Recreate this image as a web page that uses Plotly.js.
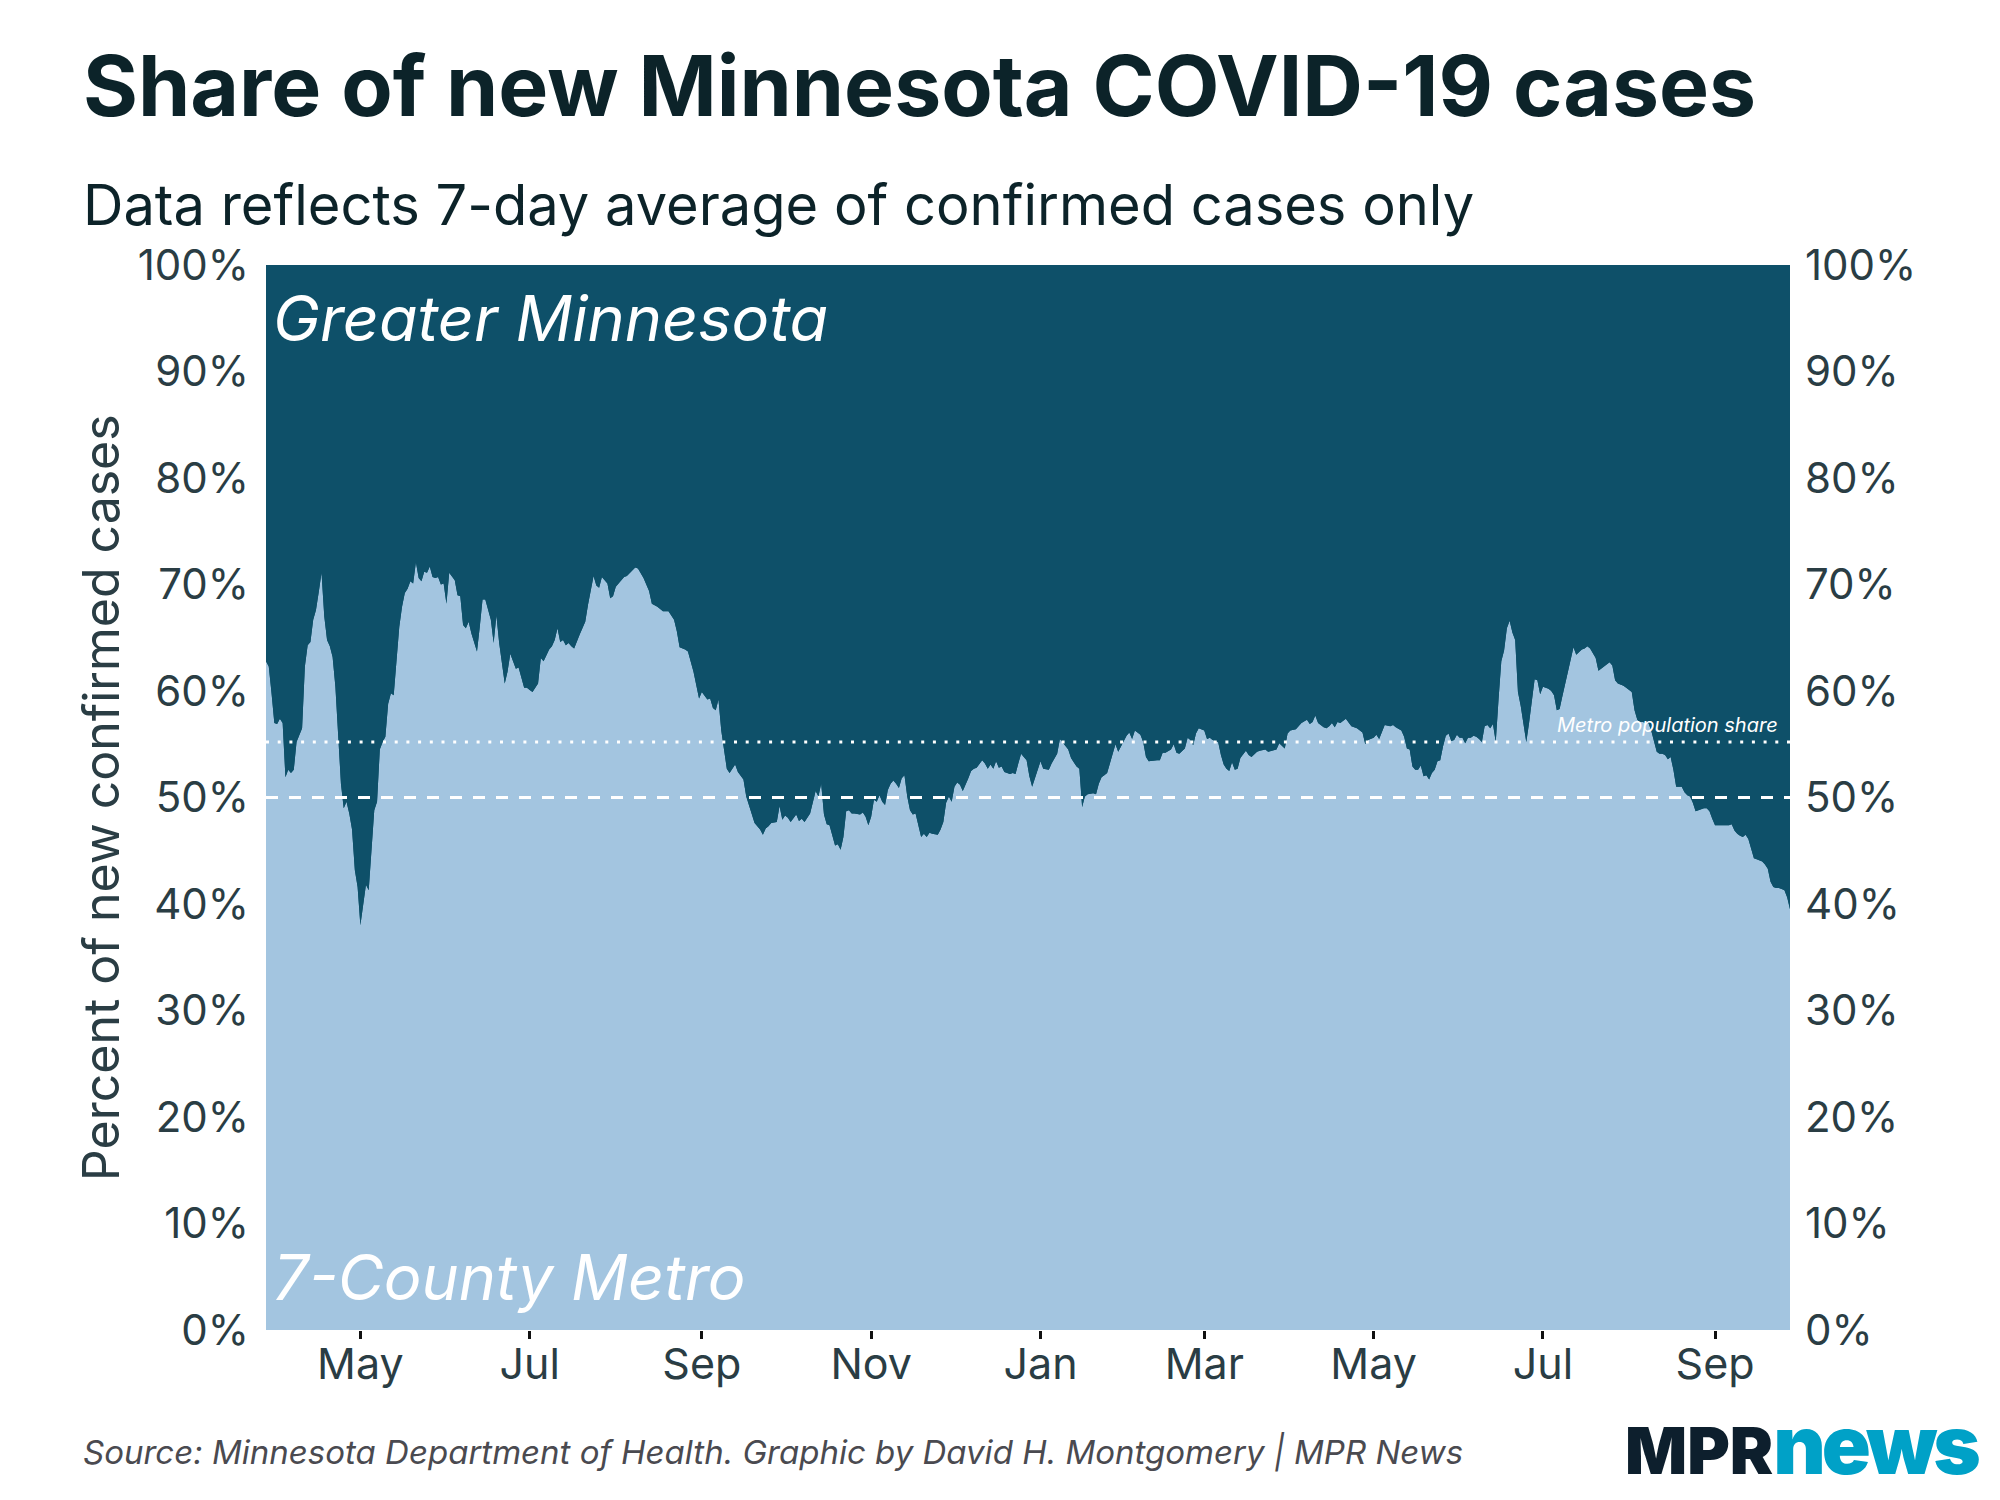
<!DOCTYPE html>
<html>
<head>
<meta charset="utf-8">
<script src="https://cdn.plot.ly/plotly-3.0.1.min.js"></script>
<style>
  html, body { margin: 0; padding: 0; background: #ffffff; }
  #chart { width: 2000px; height: 1500px; }
</style>
</head>
<body>
<div id="chart"></div>
<script>
// ---- Data (7-day average share of new confirmed cases, 7-County Metro, %) ----
const dates = [
  '2020-03-28','2020-03-29','2020-03-30','2020-03-31',
  '2020-04-01','2020-04-02','2020-04-03','2020-04-04','2020-04-05','2020-04-06','2020-04-07','2020-04-08','2020-04-10','2020-04-11','2020-04-12','2020-04-13','2020-04-14','2020-04-15','2020-04-16','2020-04-17','2020-04-18','2020-04-19','2020-04-20','2020-04-21','2020-04-22','2020-04-23','2020-04-24','2020-04-25','2020-04-26','2020-04-27','2020-04-28','2020-04-29','2020-04-30',
  '2020-05-01','2020-05-02','2020-05-03','2020-05-04','2020-05-05','2020-05-06','2020-05-07','2020-05-08','2020-05-09','2020-05-10','2020-05-11','2020-05-12','2020-05-13','2020-05-14','2020-05-15','2020-05-16','2020-05-17','2020-05-18','2020-05-19','2020-05-20','2020-05-21','2020-05-22','2020-05-23','2020-05-24','2020-05-25','2020-05-26','2020-05-27','2020-05-28','2020-05-29','2020-05-30','2020-05-31',
  '2020-06-01','2020-06-02','2020-06-04','2020-06-05','2020-06-06','2020-06-07','2020-06-08','2020-06-09','2020-06-10','2020-06-11','2020-06-12','2020-06-13','2020-06-14','2020-06-15','2020-06-17','2020-06-18','2020-06-19','2020-06-20','2020-06-21','2020-06-22','2020-06-23','2020-06-24','2020-06-26','2020-06-27','2020-06-29','2020-06-30',
  '2020-07-01','2020-07-02','2020-07-03','2020-07-04','2020-07-05','2020-07-06','2020-07-08','2020-07-09','2020-07-10','2020-07-11','2020-07-12','2020-07-13','2020-07-14','2020-07-15','2020-07-16','2020-07-17','2020-07-19','2020-07-20','2020-07-21','2020-07-22','2020-07-23','2020-07-24','2020-07-25','2020-07-26','2020-07-27','2020-07-29','2020-07-30','2020-07-31',
  '2020-08-01','2020-08-03','2020-08-04','2020-08-05','2020-08-07','2020-08-08','2020-08-09','2020-08-11','2020-08-13','2020-08-14','2020-08-16','2020-08-18','2020-08-20','2020-08-22','2020-08-23','2020-08-24','2020-08-26','2020-08-27','2020-08-29','2020-08-30','2020-08-31',
  '2020-09-01','2020-09-02','2020-09-03','2020-09-04','2020-09-05','2020-09-06','2020-09-07','2020-09-08','2020-09-09','2020-09-10','2020-09-11','2020-09-13','2020-09-14','2020-09-15','2020-09-16','2020-09-17','2020-09-19','2020-09-20','2020-09-21','2020-09-22','2020-09-23','2020-09-24','2020-09-25','2020-09-26','2020-09-28','2020-09-29','2020-09-30',
  '2020-10-01','2020-10-02','2020-10-03','2020-10-05','2020-10-06','2020-10-07','2020-10-08','2020-10-10','2020-10-11','2020-10-12','2020-10-13','2020-10-14','2020-10-15','2020-10-16','2020-10-17','2020-10-18','2020-10-19','2020-10-20','2020-10-21','2020-10-22','2020-10-23','2020-10-24','2020-10-25','2020-10-26','2020-10-28','2020-10-29','2020-10-30','2020-10-31',
  '2020-11-01','2020-11-02','2020-11-03','2020-11-04','2020-11-05','2020-11-06','2020-11-07','2020-11-08','2020-11-09','2020-11-10','2020-11-11','2020-11-12','2020-11-13','2020-11-14','2020-11-15','2020-11-16','2020-11-17','2020-11-18','2020-11-19','2020-11-20','2020-11-21','2020-11-22','2020-11-23','2020-11-25','2020-11-26','2020-11-27','2020-11-28','2020-11-29','2020-11-30',
  '2020-12-01','2020-12-02','2020-12-03','2020-12-04','2020-12-06','2020-12-07','2020-12-08','2020-12-09','2020-12-11','2020-12-12','2020-12-13','2020-12-14','2020-12-15','2020-12-16','2020-12-17','2020-12-18','2020-12-19','2020-12-21','2020-12-22','2020-12-23','2020-12-24','2020-12-25','2020-12-27','2020-12-28','2020-12-29','2020-12-30','2020-12-31',
  '2021-01-01','2021-01-02','2021-01-04','2021-01-05','2021-01-07','2021-01-08','2021-01-10','2021-01-11','2021-01-12','2021-01-14','2021-01-15','2021-01-16','2021-01-17','2021-01-18','2021-01-20','2021-01-21','2021-01-22','2021-01-23','2021-01-24','2021-01-25','2021-01-26','2021-01-27','2021-01-28','2021-01-29','2021-01-30','2021-01-31',
  '2021-02-01','2021-02-02','2021-02-03','2021-02-04','2021-02-06','2021-02-07','2021-02-08','2021-02-09','2021-02-11','2021-02-12','2021-02-13','2021-02-14','2021-02-15','2021-02-17','2021-02-18','2021-02-19','2021-02-20','2021-02-22','2021-02-23','2021-02-24','2021-02-25','2021-02-26','2021-02-27',
  '2021-03-01','2021-03-02','2021-03-03','2021-03-04','2021-03-06','2021-03-07','2021-03-08','2021-03-09','2021-03-10','2021-03-11','2021-03-12','2021-03-13','2021-03-14','2021-03-16','2021-03-17','2021-03-18','2021-03-20','2021-03-21','2021-03-23','2021-03-24','2021-03-26','2021-03-27','2021-03-28','2021-03-29','2021-03-30','2021-03-31',
  '2021-04-01','2021-04-03','2021-04-04','2021-04-05','2021-04-07','2021-04-08','2021-04-09','2021-04-10','2021-04-11','2021-04-13','2021-04-14','2021-04-15','2021-04-16','2021-04-17','2021-04-18','2021-04-19','2021-04-21','2021-04-22','2021-04-23','2021-04-25','2021-04-26','2021-04-27','2021-04-28','2021-04-29',
  '2021-05-01','2021-05-02','2021-05-03','2021-05-04','2021-05-05','2021-05-07','2021-05-08','2021-05-09','2021-05-11','2021-05-12','2021-05-13','2021-05-14','2021-05-15','2021-05-16','2021-05-17','2021-05-18','2021-05-19','2021-05-20','2021-05-21','2021-05-22','2021-05-23','2021-05-24','2021-05-25','2021-05-26','2021-05-27','2021-05-28','2021-05-29','2021-05-30','2021-05-31',
  '2021-06-01','2021-06-02','2021-06-03','2021-06-04','2021-06-05','2021-06-06','2021-06-07','2021-06-08','2021-06-09','2021-06-10','2021-06-11','2021-06-12','2021-06-13','2021-06-14','2021-06-15','2021-06-16','2021-06-17','2021-06-18','2021-06-19','2021-06-20','2021-06-21','2021-06-22','2021-06-23','2021-06-24','2021-06-25','2021-06-26','2021-06-27','2021-06-28','2021-06-29','2021-06-30',
  '2021-07-01','2021-07-02','2021-07-03','2021-07-04','2021-07-05','2021-07-06','2021-07-07','2021-07-08','2021-07-09','2021-07-10','2021-07-11','2021-07-12','2021-07-13','2021-07-14','2021-07-15','2021-07-16','2021-07-17','2021-07-18','2021-07-19','2021-07-20','2021-07-21','2021-07-22','2021-07-23','2021-07-24','2021-07-25','2021-07-26','2021-07-27','2021-07-28','2021-07-29','2021-07-30','2021-07-31',
  '2021-08-01','2021-08-02','2021-08-03','2021-08-04','2021-08-05','2021-08-06','2021-08-07','2021-08-08','2021-08-09','2021-08-10','2021-08-11','2021-08-12','2021-08-13','2021-08-14','2021-08-15','2021-08-16','2021-08-17','2021-08-18','2021-08-19','2021-08-20','2021-08-21','2021-08-22','2021-08-23','2021-08-24','2021-08-25','2021-08-26','2021-08-27','2021-08-28','2021-08-29','2021-08-30','2021-08-31',
  '2021-09-01','2021-09-02','2021-09-03','2021-09-04','2021-09-05','2021-09-06','2021-09-07','2021-09-08','2021-09-09','2021-09-10','2021-09-11','2021-09-12','2021-09-13','2021-09-14','2021-09-15','2021-09-16','2021-09-17','2021-09-18','2021-09-19','2021-09-20','2021-09-21','2021-09-22','2021-09-23','2021-09-24','2021-09-25','2021-09-26','2021-09-27','2021-09-28'
];

const metroShare = [
  62.8,62.3,59.8,57.0,
  56.9,57.4,57.0,51.9,52.6,52.3,52.6,55.2,56.5,62.3,64.3,64.6,66.7,67.6,69.3,71.1,67.0,64.8,64.2,63.2,60.4,55.7,51.3,49.0,49.6,48.5,47.0,43.2,41.6,
  38.0,40.1,41.8,41.3,44.8,48.8,49.6,54.5,55.2,55.7,58.8,59.8,59.6,62.9,66.0,67.9,69.2,69.6,70.3,70.1,72.1,70.6,70.3,71.2,71.1,71.7,70.7,70.6,70.7,70.0,70.1,
  68.2,71.1,70.4,69.0,68.9,66.2,65.9,66.5,65.4,64.6,63.7,66.0,68.6,68.6,66.7,64.5,67.1,64.5,62.3,60.7,61.8,63.5,62.1,62.2,60.3,60.3,
  60.1,59.9,60.3,60.7,63.1,62.8,63.9,64.2,64.8,65.9,64.6,64.8,64.3,64.5,64.2,64.0,65.3,66.0,66.5,68.1,69.6,70.8,69.9,69.7,70.7,70.1,68.7,68.9,
  69.8,70.4,70.7,70.8,71.4,71.6,71.5,70.6,69.4,68.2,67.9,67.5,67.5,66.7,65.6,64.1,63.9,63.7,61.8,60.6,59.3,
  59.9,59.5,59.2,59.3,58.4,58.2,59.2,56.3,54.5,52.7,52.3,53.1,52.4,52.0,51.7,50.1,48.5,47.6,47.3,47.0,46.5,47.1,47.3,47.6,47.7,49.2,47.9,
  48.3,48.1,47.7,48.4,47.8,48.0,47.7,48.5,49.6,50.6,50.1,51.3,48.4,47.5,47.4,46.5,45.5,45.6,45.1,46.3,48.7,48.8,48.5,48.5,48.4,48.6,48.2,47.4,
  48.2,49.8,49.6,50.2,49.6,49.3,50.7,51.3,51.6,51.3,50.9,51.8,52.1,50.1,48.8,48.4,48.5,47.4,46.3,46.6,46.3,46.7,46.6,46.5,47.0,47.7,49.5,50.1,49.6,
  51.0,51.4,51.2,50.6,51.8,52.5,52.7,52.8,53.5,53.2,52.7,53.1,52.7,53.4,52.8,52.9,52.4,52.2,52.3,52.2,53.2,54.1,53.5,52.0,51.0,51.8,52.7,
  53.4,52.7,52.6,53.2,54.1,55.5,54.9,54.5,53.7,52.9,52.7,49.1,50.1,50.3,50.4,50.3,51.3,51.9,52.1,52.3,53.2,54.1,55.0,54.3,54.8,55.4,
  55.8,56.1,55.5,56.3,55.9,55.2,53.8,53.4,53.5,53.5,53.5,54.2,54.2,54.5,55.0,54.2,54.1,54.6,55.6,55.4,54.9,56.0,56.5,
  56.3,55.5,55.6,55.4,55.2,54.0,53.1,52.7,52.5,53.3,52.6,52.7,53.7,54.4,54.0,53.8,54.3,54.4,54.5,54.3,54.4,54.5,55.1,54.8,54.6,56.0,
  56.3,56.4,56.7,57.0,57.3,56.9,57.1,57.7,57.0,56.6,56.5,56.7,57.0,56.6,57.1,57.0,57.4,57.0,56.7,56.5,56.3,56.1,55.0,55.4,
  55.6,55.9,55.5,56.2,56.8,56.7,56.8,56.6,56.3,55.7,54.6,54.5,52.9,52.6,52.6,53.0,52.0,52.1,51.7,52.3,52.6,53.4,53.5,54.8,55.8,56.0,55.3,55.4,55.9,
  55.6,55.6,55.1,55.6,55.6,55.8,55.7,55.5,55.2,56.7,56.8,56.5,56.9,55.2,59.2,62.8,63.8,65.9,66.6,65.5,64.8,59.9,58.6,57.1,55.2,57.0,59.3,61.1,61.0,59.7,
  60.4,60.3,60.2,60.0,59.6,58.2,58.3,59.5,60.7,62.0,63.2,64.1,63.4,63.7,63.9,64.0,64.2,64.0,63.5,63.1,61.9,62.1,62.3,62.5,62.7,62.4,61.0,60.7,60.6,60.5,60.3,
  60.1,59.9,58.2,57.3,57.1,57.1,57.0,57.0,56.3,55.2,54.3,54.1,54.1,54.0,53.6,53.8,52.6,51.0,51.0,51.0,50.5,50.2,50.1,49.5,48.7,48.8,48.9,49.0,49.0,48.7,48.0,
  47.4,47.4,47.4,47.4,47.4,47.4,47.5,46.9,46.6,46.4,46.3,46.5,46.1,45.1,44.3,44.2,44.1,44.0,43.7,43.3,42.1,41.6,41.5,41.5,41.4,41.3,40.6,39.5
];

const metroPopulationShare = 55.2;   // % of Minnesota population in the 7-county metro
const yTickVals = [0,10,20,30,40,50,60,70,80,90,100];
const yTickText = ['0%','10%','20%','30%','40%','50%','60%','70%','80%','90%','100%'];
const xTickVals = ['2020-05-01','2020-07-01','2020-09-01','2020-11-01','2021-01-01','2021-03-01','2021-05-01','2021-07-01','2021-09-01'];
const xTickText = ['May','Jul','Sep','Nov','Jan','Mar','May','Jul','Sep'];

// Greater Minnesota is the remainder of the total
const greaterShare = metroShare.map(v => +(100 - v).toFixed(1));

const DARK = '#0e5069';
const LIGHT = '#a3c5e0';
const TEXT = '#2a3d44';
const FONT = 'Inter, "Noto Sans", sans-serif';

const traces = [
  {
    x: dates, y: metroShare, type: 'scatter', mode: 'lines',
    stackgroup: 'share', fillcolor: LIGHT, line: {width: 0, color: LIGHT},
    name: '7-County Metro', hoverinfo: 'skip'
  },
  {
    x: dates, y: greaterShare, type: 'scatter', mode: 'lines',
    stackgroup: 'share', fillcolor: DARK, line: {width: 0, color: DARK},
    name: 'Greater Minnesota', hoverinfo: 'skip'
  },
  {
    x: [dates[0]], y: [0], yaxis: 'y2', type: 'scatter', mode: 'markers',
    marker: {opacity: 0}, showlegend: false, hoverinfo: 'skip'
  }
];

const yCommon = {
  range: [0, 100], tickvals: yTickVals, ticktext: yTickText,
  showgrid: false, zeroline: false, showline: false, ticks: '',
  tickfont: {family: FONT, size: 42, color: TEXT}, fixedrange: true
};

const layout = {
  width: 2000, height: 1500,
  margin: {l: 266, r: 210, t: 265, b: 170, pad: 0},
  paper_bgcolor: '#ffffff', plot_bgcolor: DARK,
  showlegend: false,
  xaxis: {
    type: 'date', range: ['2020-03-28', '2021-09-28'],
    tickvals: xTickVals, ticktext: xTickText,
    ticks: 'outside', ticklen: 8, tickwidth: 3, tickcolor: '#111111',
    showgrid: false, zeroline: false, showline: false,
    tickfont: {family: FONT, size: 43, color: TEXT},
    ticklabelstandoff: -12
  },
  yaxis: Object.assign({}, yCommon, {side: 'left', ticklabelstandoff: 16}),
  yaxis2: Object.assign({}, yCommon, {side: 'right', overlaying: 'y', ticklabelstandoff: 14}),
  shapes: [
    {type: 'line', xref: 'paper', x0: 0, x1: 1, yref: 'y', y0: 50, y1: 50,
     line: {color: '#ffffff', width: 3, dash: '12px,11px'}, layer: 'above'},
    {type: 'line', xref: 'paper', x0: 0, x1: 1, yref: 'y', y0: metroPopulationShare, y1: metroPopulationShare,
     line: {color: '#ffffff', width: 3, dash: '3px,8.7px'}, layer: 'above'}
  ],
  annotations: [
    {text: 'Share of new Minnesota COVID-19 cases', xref: 'paper', yref: 'paper',
     x: -0.1217, y: 1.1681, xanchor: 'left', yanchor: 'middle', showarrow: false,
     font: {family: FONT, size: 84, color: '#0c2329', weight: 700}},
    {text: 'Data reflects 7-day average of confirmed cases only', xref: 'paper', yref: 'paper',
     x: -0.1217, y: 1.0563, xanchor: 'left', yanchor: 'middle', showarrow: false,
     font: {family: FONT, size: 56, color: '#0c2329'}},
    {text: 'Percent of new confirmed cases', xref: 'paper', yref: 'paper',
     x: -0.1085, y: 0.5, xanchor: 'center', yanchor: 'middle', textangle: -90, showarrow: false,
     font: {family: FONT, size: 50, color: TEXT}},
    {text: 'Greater Minnesota', xref: 'paper', yref: 'paper',
     x: 0.003, y: 0.9502, xanchor: 'left', yanchor: 'middle', showarrow: false,
     font: {family: FONT, size: 63, color: '#ffffff', style: 'italic'}},
    {text: '7-County Metro', xref: 'paper', yref: 'paper',
     x: 0.003, y: 0.0498, xanchor: 'left', yanchor: 'middle', showarrow: false,
     font: {family: FONT, size: 63, color: '#ffffff', style: 'italic'}},
    {text: 'Metro population share', xref: 'paper', yref: 'paper',
     x: 0.9934, y: 0.5681, xanchor: 'right', yanchor: 'middle', showarrow: false,
     font: {family: FONT, size: 20, color: '#ffffff', style: 'italic'}},
    {text: 'Source: Minnesota Department of Health. Graphic by David H. Montgomery | MPR News',
     xref: 'paper', yref: 'paper', x: -0.1214, y: -0.1146, xanchor: 'left', yanchor: 'middle', showarrow: false,
     font: {family: FONT, size: 33, color: '#4a4a50', style: 'italic'}},
    {text: '<span style="color:#0d1f2d;font-size:65px">MPR</span><span style="color:#00a1c7;font-size:81px;letter-spacing:-4px">news</span>',
     xref: 'paper', yref: 'paper', x: 1.1250, y: -0.1084, xanchor: 'right', yanchor: 'middle', showarrow: false,
     font: {family: FONT, size: 81, color: '#00a1c7', weight: 900}}
  ]
};

Plotly.newPlot('chart', traces, layout, {staticPlot: true, displayModeBar: false});
</script>
</body>
</html>
